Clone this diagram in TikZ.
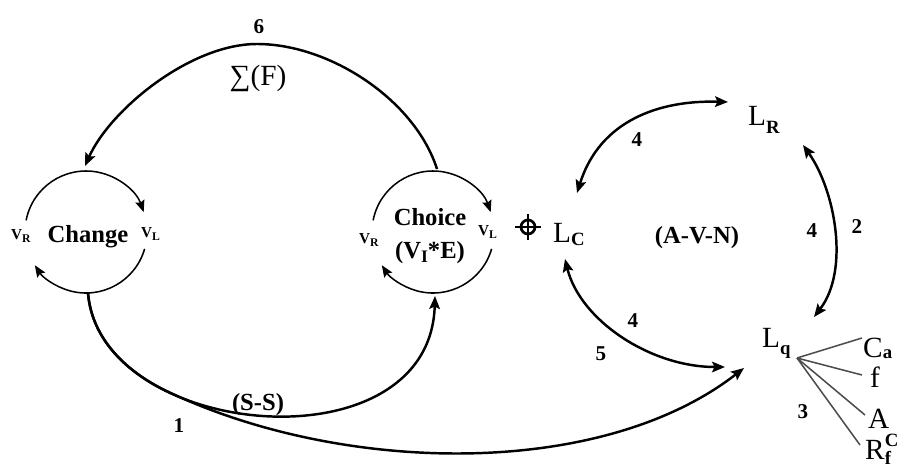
\documentclass[tikz,border=0pt]{standalone}
\usepackage{fontspec}
\setmainfont{Liberation Serif}
\usetikzlibrary{arrows.meta}
\newcommand\lowr[3]{\raisebox{-#1}{\fontsize{#2}{#2}\selectfont\bfseries #3}}
\begin{document}
\begin{tikzpicture}[x=0.03cm,y=-0.03cm,
  tipA/.tip={Stealth[length=11pt,width=9pt,inset=2pt]},
  tipB/.tip={Stealth[length=10pt,width=8pt,inset=1.5pt]},
  conn/.style={line width=2.1pt},
  ring/.style={line width=1.3pt,-tipB},
  fan/.style={line width=1.3pt,draw=black!70},
  lbl/.style={font=\fontsize{21}{24}\selectfont\bfseries,inner sep=0pt},
  num/.style={font=\fontsize{18}{20}\selectfont\bfseries,inner sep=0pt},
  vsm/.style={font=\fontsize{13}{14}\selectfont\bfseries,inner sep=0pt},
  big/.style={font=\fontsize{25}{28}\selectfont,inner sep=0pt}]
\fill[white] (0,0) rectangle (914,473);
\useasboundingbox (0,0) rectangle (914,473);

% circles
\coordinate (chg) at (86,232);
\coordinate (cho) at (433,232);
\draw[ring] (chg) ++(191:61) arc[start angle=191,end angle=341,radius=61];
\draw[ring] (chg) ++(16:61) arc[start angle=16,end angle=147,radius=61];
\draw[ring] (cho) ++(191:61) arc[start angle=191,end angle=341,radius=61];
\draw[ring] (cho) ++(16:61) arc[start angle=16,end angle=147,radius=61];

% circle labels
\node[lbl,anchor=base] (change) at (88,242) {Change};
\node[vsm,anchor=base west] (vr1) at (11,239) {V\lowr{3pt}{10}{R}};
\node[vsm,anchor=base west] (vl1) at (141,237) {V\lowr{3pt}{10}{L}};
\node[lbl,anchor=base] (choice) at (430,225) {Choice};
\node[lbl,anchor=base] (vie) at (430,258) {(V\lowr{4pt}{15}{I}*E)};
\node[vsm,anchor=base west] (vr2) at (359,243) {V\lowr{3pt}{10}{R}};
\node[vsm,anchor=base west] (vl2) at (478,235) {V\lowr{3pt}{10}{L}};

% target symbol
\coordinate (tgt) at (528,227);
\draw[line width=2.3pt] (tgt) circle[radius=7];
\draw[line width=2.3pt] ([xshift=-13*0.03cm]tgt) -- ([xshift=13*0.03cm]tgt);
\draw[line width=2.3pt] ([yshift=13*0.03cm]tgt) -- ([yshift=-13*0.03cm]tgt);

% L nodes
\node[big,anchor=base west] (LC) at (553,242) {L\lowr{3pt}{16}{C}};
\node[big,anchor=base west] (LR) at (748,125) {L\lowr{7pt}{16}{R}};
\node[big,anchor=base west] (Lq) at (762,347) {L\lowr{6pt}{16}{q}};
\node[lbl,anchor=base] (avn) at (697,243) {(A-V-N)};

% fan items
\node[big,anchor=base west] (Ca) at (863,357) {C\lowr{1pt}{16}{a}};
\node[big,anchor=base west] (ff) at (870,387) {f};
\node[big,anchor=base west] (AA) at (868,428) {A};
\node[big,anchor=base west] (Rf) at (865,459) {R\makebox[0pt][l]{\raisebox{11pt}{\fontsize{16}{16}\selectfont\bfseries C}}\lowr{5pt}{16}{f}};
\coordinate (fo) at (797,358);
\coordinate (fCa) at (862,338);
\coordinate (ffe) at (862,375);
\coordinate (fA) at (865,415);
\coordinate (fR) at (860,445);
\draw[fan] (fo) -- (fCa);
\draw[fan] (fo) -- (ffe);
\draw[fan] (fo) -- (fA);
\draw[fan] (fo) -- (fR);

% connector endpoints
\coordinate (c6s) at (437,169);
\coordinate (top6) at (257,44);
\coordinate (c6e) at (85,166);
\coordinate (chgB) at (88,293);
\coordinate (jn) at (167.3,391.4);
\coordinate (choB) at (435,296);
\coordinate (lqL) at (744,368);
\coordinate (lcT) at (577,193);
\coordinate (lrL) at (728,102);
\coordinate (lrB) at (803,145);
\coordinate (lqT) at (814,317);
\coordinate (lcB) at (565,259);
\coordinate (lqW) at (725,367);

% connectors
\draw[conn,-tipA] (c6s) .. controls (415,100) and (330,44) .. (top6)
  .. controls (190,44) and (110,110) .. (c6e);
\draw[conn,-tipA] (chgB) .. controls (100,440) and (430,470) .. (choB);
\draw[conn,-tipA] (chgB) .. controls (91.6,337.1) and (123.8,370.7) .. (jn)
  .. controls (341,474) and (600,480) .. (lqL);
\draw[conn,tipA-tipA] (lcT) .. controls (600,120) and (660,100) .. (lrL);
\draw[conn,tipA-tipA] (lrB) .. controls (835,190) and (850,270) .. (lqT);
\draw[conn,tipA-tipA] (lcB) .. controls (580,320) and (650,367) .. (lqW);

% labels
\node[num,anchor=base] (n6) at (259,33) {6};
\node[big,anchor=base] (sumF) at (258,85) {∑(F)};
\node[lbl,anchor=base] (ss) at (258,410) {(S-S)};
\node[num,anchor=base] (n1) at (179,432) {1};
\node[num,anchor=base] (n4a) at (637,146) {4};
\node[num,anchor=base] (n4b) at (812,237) {4};
\node[num,anchor=base] (n2) at (857,233) {2};
\node[num,anchor=base] (n4c) at (633,327) {4};
\node[num,anchor=base] (n5) at (601,360) {5};
\node[num,anchor=base] (n3) at (803,418) {3};
\end{tikzpicture}
\end{document}
